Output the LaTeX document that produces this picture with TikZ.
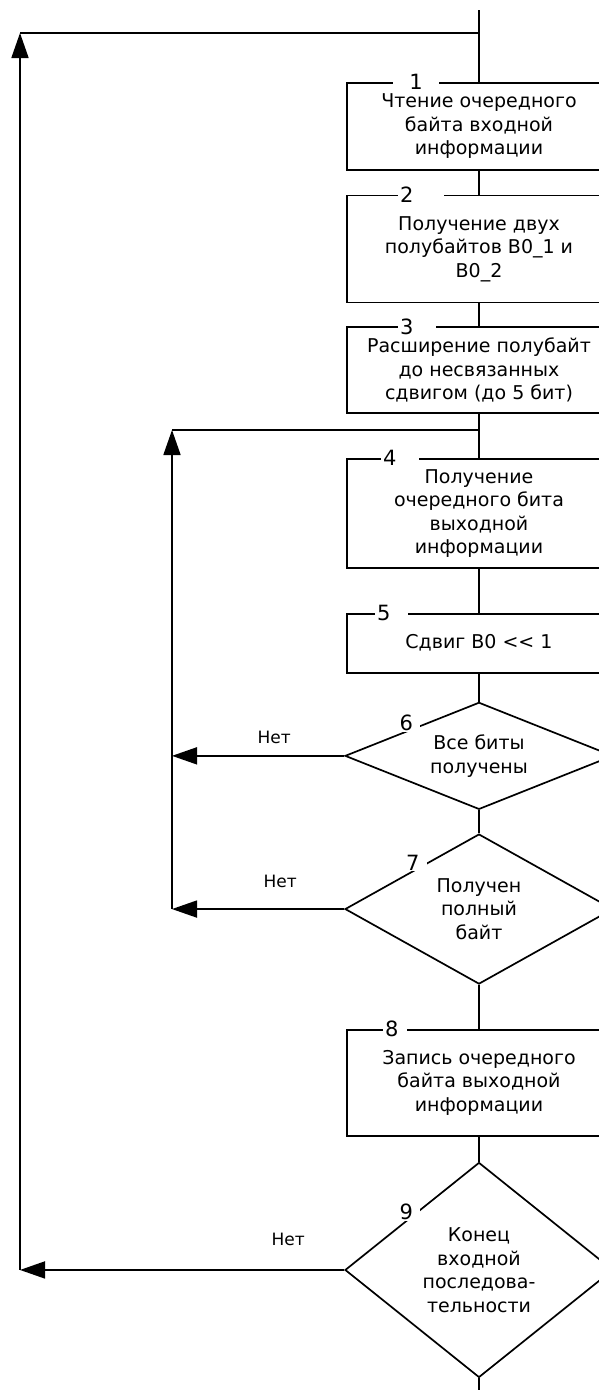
\documentclass[tikz,border=0pt]{standalone}
\usepackage{fontspec}
\setmainfont{DejaVu Sans}
\usepackage{tikz}
\usetikzlibrary{shapes, arrows, arrows.meta, calc}

\begin{document}
\begin{tikzpicture}[
    x=1pt, y=-1pt,
    line width=1.7pt,
    >={Triangle[length=25pt, width=17pt]},
    blockWidth/.style={minimum width=264pt},
    block/.style={draw, blockWidth, inner sep=0pt, align=center, font=\fontsize{19}{23.5}\selectfont},
    decision/.style={draw, diamond, minimum width=268pt, inner sep=0pt, align=center, font=\fontsize{19}{23.5}\selectfont},
    num/.style={fill=white, inner xsep=2pt, inner ysep=1pt, anchor=west, text width=34pt, align=left, font=\fontsize{21}{21}\selectfont},
    dnum/.style={fill=white, inner xsep=7pt, inner ysep=1pt, yshift=8pt, font=\fontsize{21}{21}\selectfont},
    answer/.style={font=\fontsize{17}{17}\selectfont},
    every node/.style={
        text centered,
        }
        ]
    \clip (0,0) rectangle (599,1390);

    \coordinate (start) at (479,10);
    \coordinate (finish) at (479,1390);
    \coordinate (outerTop) at (20,33);
    \coordinate (innerTop) at (172,430);

    \node[block, minimum height=87pt, anchor=north] (b1) at (479,82) {Чтение очередного\\байта входной\\информации};
    \node[block, minimum height=107pt, anchor=north, yshift=-24pt] (b2) at (b1.south) {Получение двух\\полубайтов B0\_1 и\\B0\_2};
    \node[block, minimum height=86pt, anchor=north, yshift=-23pt] (b3) at (b2.south) {Расширение полубайт\\до несвязанных\\сдвигом (до 5 бит)};
    \node[block, minimum height=109pt, anchor=north, yshift=-44pt] (b4) at (b3.south) {Получение\\очередного бита\\выходной\\информации};
    \node[block, minimum height=59pt, anchor=north, yshift=-44pt] (b5) at (b4.south) {Сдвиг B0 <{}< 1};
    \node[decision, aspect=2.5, minimum height=107pt, anchor=north, yshift=-28pt] (d6) at (b5.south) {Все биты\\получены};
    \node[decision, aspect=1.8, minimum height=150pt, anchor=north, yshift=-23pt] (d7) at (d6.south) {Получен\\полный\\байт};
    \node[block, minimum height=106pt, anchor=north, yshift=-44pt] (b8) at (d7.south) {Запись очередного\\байта выходной\\информации};
    \node[decision, aspect=1.25, minimum height=215pt, anchor=north, yshift=-25pt] (d9) at (b8.south) {Конец\\входной\\последова-\\тельности};

    \node[num, align=center, text width=42pt] (n1) at ([xshift=46pt]b1.north west) {1};
    \node[num, text width=42pt] (n2) at ([xshift=51pt]b2.north west) {2};
    \node[num] (n3) at ([xshift=51pt]b3.north west) {3};
    \node[num] (n4) at ([xshift=34pt]b4.north west) {4};
    \node[num, text width=29pt] (n5) at ([xshift=28pt]b5.north west) {5};
    \node[num, text width=20pt] (n8) at ([xshift=36pt]b8.north west) {8};
    \node[dnum] (n6) at ($(d6.west)!0.46!(d6.north)$) {6};
    \node[dnum] (n7) at ($(d7.west)!0.51!(d7.north)$) {7};
    \node[dnum] (n9) at ($(d9.west)!0.46!(d9.north)$) {9};

    \node[answer] (no6) at ([xshift=-70pt, yshift=18pt]d6.west) {Нет};
    \node[answer] (no7) at ([xshift=-64pt, yshift=28pt]d7.west) {Нет};
    \node[answer] (no9) at ([xshift=-56pt, yshift=31pt]d9.west) {Нет};

    \draw (start) -- (b1.north);
    \draw (b1.south) -- (b2.north);
    \draw (b2.south) -- (b3.north);
    \draw (b3.south) -- (b4.north);
    \draw (b4.south) -- (b5.north);
    \draw (b5.south) -- (d6.north);
    \draw (d6.south) -- (d7.north);
    \draw (d7.south) -- (b8.north);
    \draw (b8.south) -- (d9.north);
    \draw (d9.south) -- (finish);

    \draw[->] (d6.west) -- (d6.west -| innerTop);
    \draw[->] (d7.west) -- (d7.west -| innerTop);
    \draw[->] (d7.west -| innerTop) -- (innerTop);
    \draw (innerTop) -- (b3.south |- innerTop);
    \draw[->] (d9.west) -- (d9.west -| outerTop);
    \draw[->] (d9.west -| outerTop) -- (outerTop);
    \draw (outerTop) -- (start |- outerTop);
\end{tikzpicture}
\end{document}
